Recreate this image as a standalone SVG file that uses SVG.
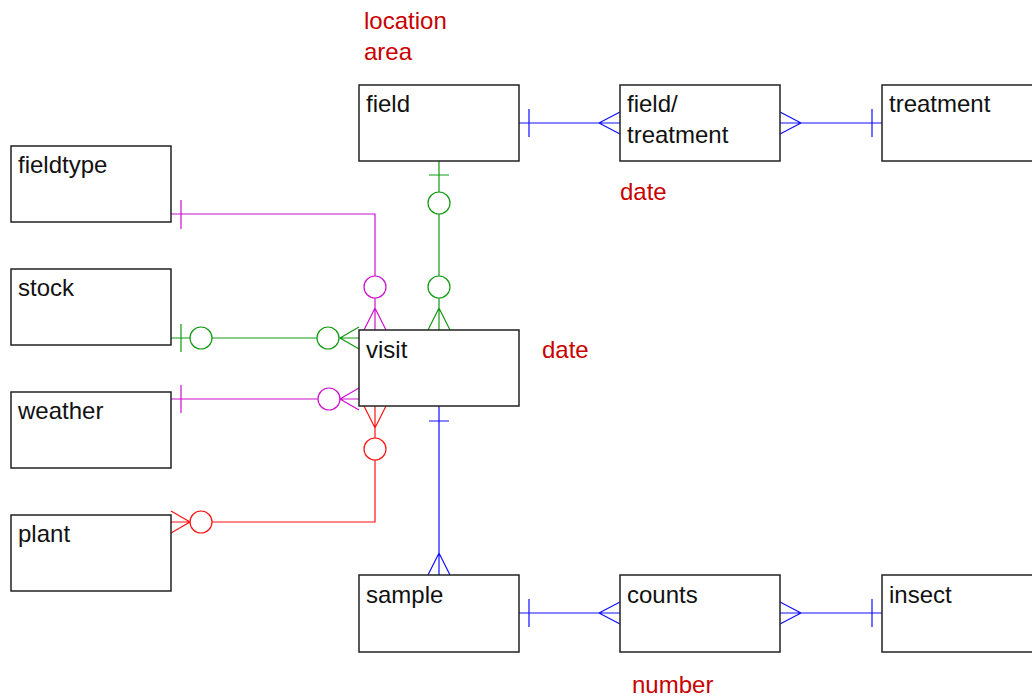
<svg xmlns="http://www.w3.org/2000/svg" width="1032" height="698" viewBox="0 0 1032 698">
<style>
.box{fill:#fff;stroke:#222;stroke-width:1.5}
.t{font-family:"Liberation Sans",Arial,sans-serif;font-size:24px;fill:#111}
.a{font-family:"Liberation Sans",Arial,sans-serif;font-size:24px;fill:#c80000}
.c{fill:none;stroke-width:1.2}
.b{stroke:#1010ff}
.g{stroke:#119911}
.m{stroke:#cc11cc}
.r{stroke:#ff1111}
</style>
<rect width="1032" height="698" fill="#fff"/>
<g id="attrs">
<text class="a" x="364" y="29">location</text>
<text class="a" x="364" y="60">area</text>
<text class="a" x="620" y="200">date</text>
<text class="a" x="542" y="358">date</text>
<text class="a" x="632" y="693">number</text>
</g>
<g id="connectors">
<g class="c b">
<path d="M519 123H620M529 109V137M620 112L599 123L620 134"/>
<path d="M780 123H882M872 109V137M780 112L801 123L780 134"/>
<path d="M439 406V575M429 421H449M428 575L439 553L450 575"/>
<path d="M519 613H620M529 599V627M620 602L599 613L620 624"/>
<path d="M780 613H882M872 599V627M780 602L801 613L780 624"/>
</g>
<g class="c g">
<path d="M439 161V192M439 214V276M439 298V330M429 175H449M428 330L439 308L450 330"/>
<circle cx="439" cy="203" r="11"/>
<circle cx="439" cy="287" r="11"/>
<path d="M171 338H190M212 338H317M339 338H359M181 324V352M359 327L340 338L359 349"/>
<circle cx="201" cy="338" r="11"/>
<circle cx="328" cy="338" r="11"/>
</g>
<g class="c m">
<path d="M171 214H375V276M375 298V330M181 200V229M364 330L375 308L386 330"/>
<circle cx="375" cy="287" r="11"/>
<path d="M171 399H318M340 399H359M181 385V413M359 388L340 399L359 410"/>
<circle cx="329" cy="399" r="11"/>
</g>
<g class="c r">
<path d="M375 406V438M375 460V522H212M190 522H171M364 406L375 428L386 406M171 511L190 522L171 533"/>
<circle cx="375" cy="449" r="11"/>
<circle cx="201" cy="522" r="11"/>
</g>
</g>
<g id="field"><rect class="box" x="359" y="85" width="160" height="76"/><text class="t" x="366" y="112">field</text></g>
<g id="fieldtreatment"><rect class="box" x="620" y="85" width="160" height="76"/><text class="t" x="627" y="112">field/</text><text class="t" x="627" y="143">treatment</text></g>
<g id="treatment"><rect class="box" x="882" y="85" width="160" height="76"/><text class="t" x="889" y="112">treatment</text></g>
<g id="fieldtype"><rect class="box" x="11" y="146" width="160" height="76"/><text class="t" x="18" y="173">fieldtype</text></g>
<g id="stock"><rect class="box" x="11" y="269" width="160" height="76"/><text class="t" x="18" y="296">stock</text></g>
<g id="visit"><rect class="box" x="359" y="330" width="160" height="76"/><text class="t" x="366" y="358">visit</text></g>
<g id="weather"><rect class="box" x="11" y="392" width="160" height="76"/><text class="t" x="18" y="419">weather</text></g>
<g id="plant"><rect class="box" x="11" y="515" width="160" height="76"/><text class="t" x="18" y="542">plant</text></g>
<g id="sample"><rect class="box" x="359" y="575" width="160" height="77"/><text class="t" x="366" y="603">sample</text></g>
<g id="counts"><rect class="box" x="620" y="575" width="160" height="77"/><text class="t" x="627" y="603">counts</text></g>
<g id="insect"><rect class="box" x="882" y="575" width="160" height="77"/><text class="t" x="889" y="603">insect</text></g>
</svg>
